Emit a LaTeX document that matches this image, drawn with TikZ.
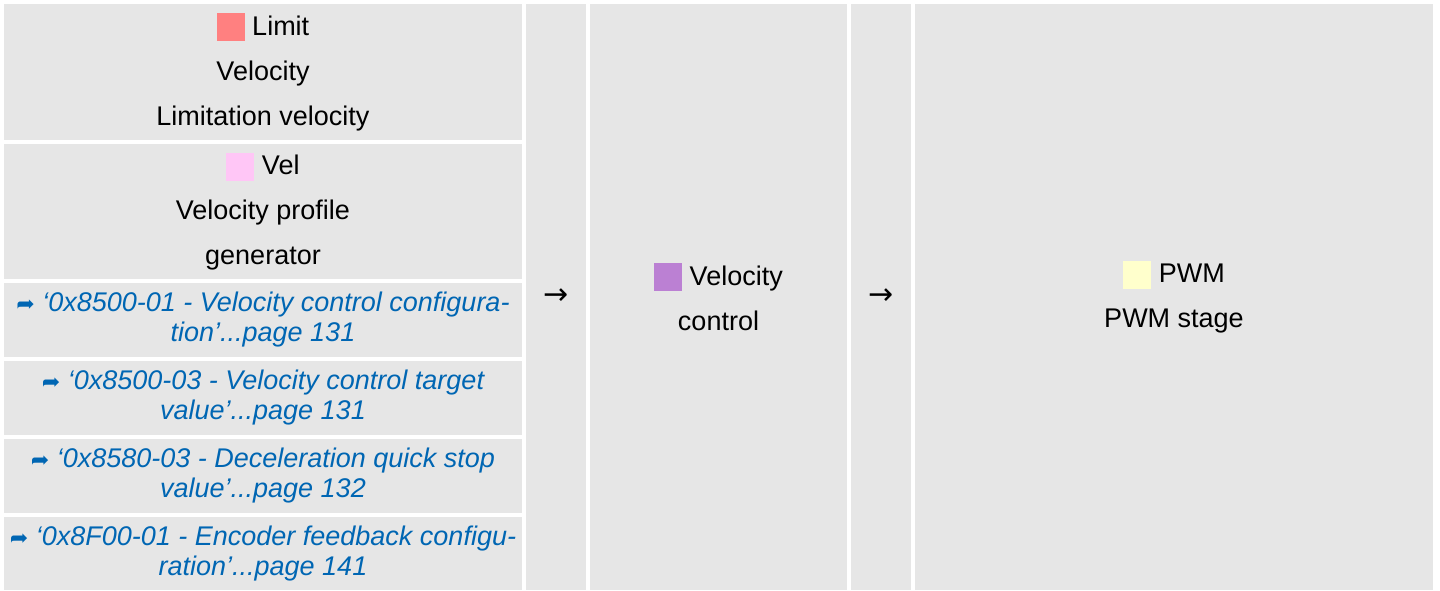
\documentclass[tikz,border=0pt]{standalone}
\usepackage{fontspec}
\setmainfont{Liberation Sans}
\newfontfamily\symfont{DejaVu Sans}
\usepackage{xcolor}
\usepackage{tikz}
\usetikzlibrary{positioning}
\definecolor{cellbg}{HTML}{E6E6E6}
\definecolor{linkblue}{HTML}{0066B3}
\definecolor{limitred}{HTML}{FF8080}
\definecolor{velpink}{HTML}{FFC6F6}
\definecolor{ctrlpurple}{HTML}{BB80D3}
\definecolor{pwmyellow}{HTML}{FFFFCC}
\newcommand{\swatch}[1]{\textcolor{#1}{\rule[-6pt]{28pt}{28pt}}}
\newcommand{\xref}{{\symfont\upshape\fontsize{22}{22}\selectfont ➦}}
\newcommand{\flowarrow}{{\symfont\fontsize{30}{30}\selectfont →}}

\begin{document}
\begin{tikzpicture}[x=1pt, y=1pt]
    \tikzstyle{cell} = [rectangle, fill=cellbg, inner sep=0pt, outer sep=0pt, text centered, align=center, font=\fontsize{27}{45}\selectfont]
    \tikzstyle{refcell} = [cell, minimum width=518pt, text=linkblue, font=\itshape\fontsize{27}{30}\selectfont]

    \useasboundingbox (0,0) rectangle (1440,-590);

    % left column: blocks and references
    \node [cell, minimum width=518pt, minimum height=136pt, anchor=north west] (limit) at (4,-4) {\swatch{limitred}\ Limit\\Velocity\\Limitation velocity};
    \node [cell, minimum width=518pt, minimum height=135pt, below=4pt of limit] (vel) {\swatch{velpink}\ Vel\\Velocity profile\\generator};
    \node [refcell, minimum height=74pt, below=4pt of vel] (ref1) {\xref\ ‘0x8500-01 - Velocity control configura-\\tion’...page 131};
    \node [refcell, minimum height=74pt, below=4pt of ref1] (ref2) {\xref\ ‘0x8500-03 - Velocity control target\\value’...page 131};
    \node [refcell, minimum height=74pt, below=4pt of ref2] (ref3) {\xref\ ‘0x8580-03 - Deceleration quick stop\\value’...page 132};
    \node [refcell, minimum height=73pt, below=4pt of ref3] (ref4) {\xref\ ‘0x8F00-01 - Encoder feedback configu-\\ration’...page 141};

    % signal chain
    \node [cell, minimum width=60pt, minimum height=586pt, right=4pt of limit.north east, anchor=north west] (arr1) {\flowarrow};
    \node [cell, minimum width=257pt, minimum height=586pt, right=4pt of arr1.north east, anchor=north west] (ctrl) {\swatch{ctrlpurple}\ Velocity\\control};
    \node [cell, minimum width=60pt, minimum height=586pt, right=4pt of ctrl.north east, anchor=north west] (arr2) {\flowarrow};
    \node [cell, minimum width=518pt, minimum height=586pt, right=4pt of arr2.north east, anchor=north west] (pwm) {\swatch{pwmyellow}\ PWM\\PWM stage};
\end{tikzpicture}
\end{document}
